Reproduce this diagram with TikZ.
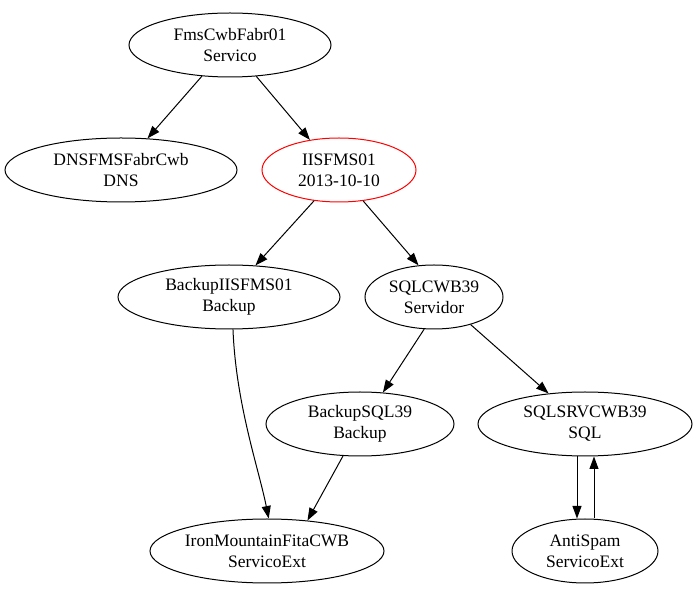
\documentclass[tikz,border=0pt]{standalone}
\usepackage{fontspec}
\setmainfont{Liberation Serif}
\usetikzlibrary{arrows.meta, shapes.geometric}
\tikzset{
  knoten/.style={draw, ellipse, align=center, minimum height=64pt, inner sep=0pt, line width=1pt, font=\fontsize{17.5}{21}\selectfont},
  pfeil/.style={-{Triangle[length=12.5pt, width=9pt]}, line width=1pt},
}

\begin{document}
\begin{tikzpicture}[x=1pt, y=1pt]
    \useasboundingbox (0,0) rectangle (697,603);
    \node[knoten, minimum width=202pt] (fms) at (230,558) {FmsCwbFabr01\\ Servico};
    \node[knoten, minimum width=232pt] (dns) at (121,433) {DNSFMSFabrCwb\\ DNS};
    \node[knoten, minimum width=154pt, draw=red] (iis) at (339,433) {IISFMS01\\ 2013-10-10};
    \node[knoten, minimum width=222pt] (bkiis) at (229,306) {BackupIISFMS01\\ Backup};
    \node[knoten, minimum width=138pt] (sql) at (434,306) {SQLCWB39\\ Servidor};
    \node[knoten, minimum width=188pt] (bksql) at (360,179) {BackupSQL39\\ Backup};
    \node[knoten, minimum width=214pt] (srv) at (585,179) {SQLSRVCWB39\\ SQL};
    \node[knoten, minimum width=234pt] (iron) at (267,52) {IronMountainFitaCWB\\ ServicoExt};
    \node[knoten, minimum width=146pt] (anti) at (585,52) {AntiSpam\\ ServicoExt};
    \draw[pfeil] (fms.228) -- (dns.50);
    \draw[pfeil] (fms.310) -- (iis.134);
    \draw[pfeil] (iis.231) -- (bkiis.50);
    \draw[pfeil] (iis.308) -- (sql.116);
    \draw[pfeil] (sql.253) -- (bksql.54);
    \draw[pfeil] (sql.323) -- (srv.140);
    \draw[pfeil] (bkiis.277) .. controls +(3,-75) and +(-10,50) .. (iron.87);
    \draw[pfeil] (bksql.242) -- (iron.37);
    \draw[pfeil] ([xshift=-8pt]srv.south) -- ([xshift=-8pt]anti.north);
    \draw[pfeil] ([xshift=9pt]anti.north) -- ([xshift=9pt]srv.south);
  \end{tikzpicture}
\end{document}
